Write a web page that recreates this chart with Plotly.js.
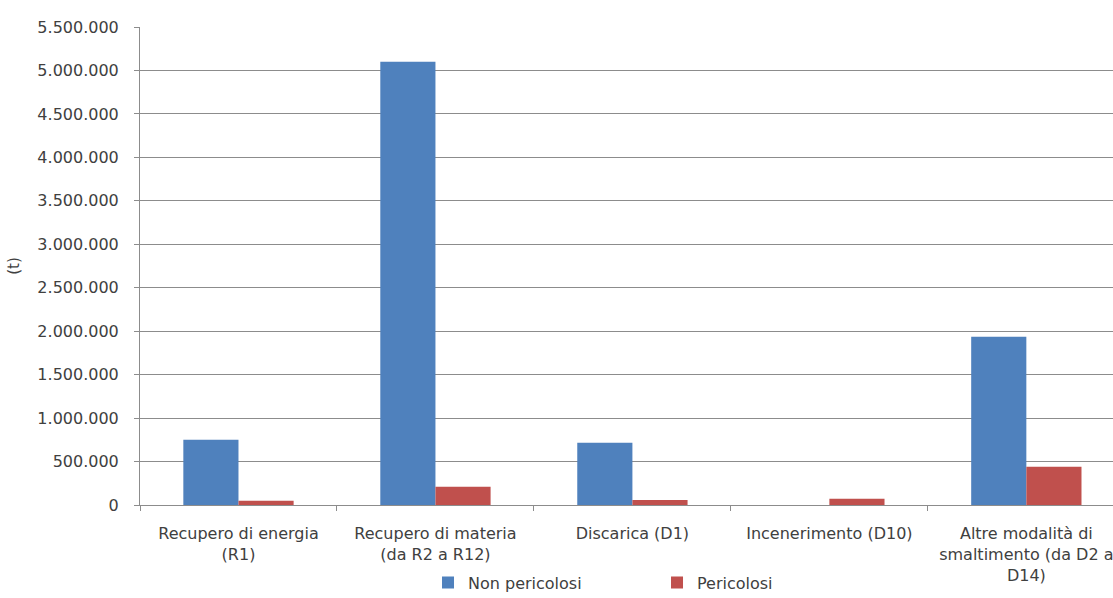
<!DOCTYPE html>
<html>
<head>
<meta charset="utf-8">
<script src="https://cdn.plot.ly/plotly-3.0.1.min.js"></script>
<style>html,body{margin:0;padding:0;background:#fff;}#chart{width:1113px;height:598px;}</style>
</head>
<body>
<div id="chart"></div>
<script>
const categories = [
  "Recupero di energia<br>(R1)",
  "Recupero di materia<br>(da R2 a R12)",
  "Discarica (D1)",
  "Incenerimento (D10)",
  "Altre modalità di<br>smaltimento (da D2 a<br>D14)"
];
const nonPericolosi = [750000, 5100000, 715000, 0, 1935000];
const pericolosi = [50000, 210000, 57000, 72000, 440000];
const seriesNames = ["Non pericolosi", "Pericolosi"];

const font = {family: "DejaVu Sans", size: 16, color: "#404040"};

const data = [
  {type: "bar", x: categories, y: nonPericolosi, name: seriesNames[0], marker: {color: "#4F81BD"}},
  {type: "bar", x: categories, y: pericolosi, name: seriesNames[1], marker: {color: "#C0504D"}}
];

const layout = {
  width: 1113, height: 598,
  margin: {l: 140, r: 0, t: 27, b: 93, autoexpand: false},
  paper_bgcolor: "#fff", plot_bgcolor: "#fff",
  font: font,
  separators: ",.",
  barmode: "group",
  bargap: 0.44,
  bargroupgap: 0,
  showlegend: true,
  legend: {orientation: "h", x: 0.296, xanchor: "left", y: -0.127, yanchor: "top",
           entrywidth: 184, entrywidthmode: "pixels", font: font, bgcolor: "rgba(0,0,0,0)"},
  xaxis: {
    type: "category",
    range: [-0.5, 4.44],
    showline: true, linecolor: "#8c8c8c", linewidth: 1,
    ticks: "outside", tickson: "boundaries", ticklen: 5, tickcolor: "#8c8c8c",
    ticklabelstandoff: 14,
    showgrid: false, zeroline: false,
    tickfont: font,
    automargin: false
  },
  yaxis: {
    range: [0, 5500000], dtick: 500000, tick0: 0,
    tickformat: ",.0f",
    showline: true, linecolor: "#8c8c8c", linewidth: 1,
    ticks: "outside", ticklen: 5, tickcolor: "#8c8c8c",
    ticklabelstandoff: 12,
    showgrid: true, gridcolor: "#8c8c8c", gridwidth: 1,
    zeroline: false,
    tickfont: font,
    title: {text: "(t)", font: {family: "DejaVu Sans", size: 15, color: "#404040"}, standoff: 14},
    automargin: false
  }
};

Plotly.newPlot("chart", data, layout, {displayModeBar: false, staticPlot: true});
</script>
</body>
</html>
